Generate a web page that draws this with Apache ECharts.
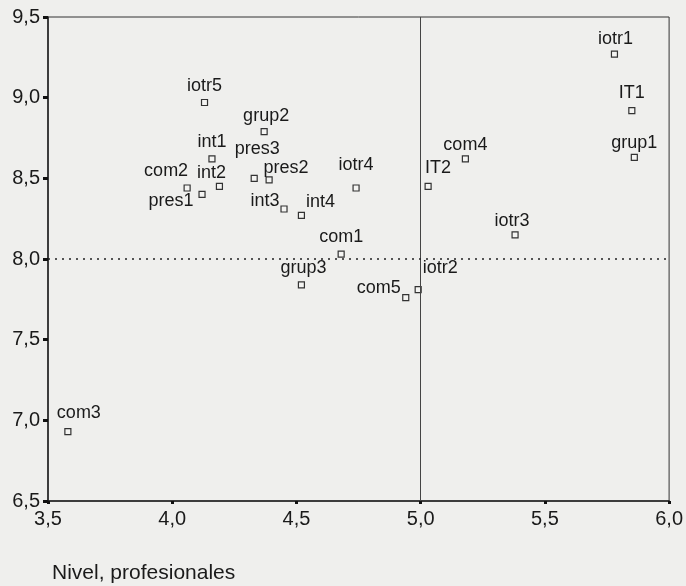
<!DOCTYPE html>
<html lang="es">
<head>
    <meta http-equiv="Content-Type" content="text/html; charset=UTF-8">
    <title>Nivel, profesionales</title>
    <script type="text/javascript" src="https://cdn.jsdelivr.net/npm/echarts@6/dist/echarts.min.js"></script>
</head>
<body style="margin:0; width:686px; height:586px; background:#efefed">
<div id="main" style="width:686px; height:586px"></div>
<script type="text/javascript">
    // datos
    var names = ['iotr1', 'IT1', 'grup1', 'com4', 'IT2', 'iotr3', 'iotr2', 'com5', 'grup3', 'com1',
        'int4', 'int3', 'iotr4', 'pres2', 'pres3', 'grup2', 'iotr5', 'int1', 'com2', 'int2', 'pres1', 'com3'];
    var xValues = [5.78, 5.85, 5.86, 5.18, 5.03, 5.38, 4.99, 4.94, 4.52, 4.68,
        4.52, 4.45, 4.74, 4.39, 4.33, 4.37, 4.13, 4.16, 4.06, 4.19, 4.12, 3.58];
    var yValues = [9.27, 8.92, 8.63, 8.62, 8.45, 8.15, 7.81, 7.76, 7.84, 8.03,
        8.27, 8.31, 8.44, 8.49, 8.50, 8.79, 8.97, 8.62, 8.44, 8.45, 8.40, 6.93];
    var xTicks = [3.5, 4.0, 4.5, 5.0, 5.5, 6.0];
    var yTicks = [6.5, 7.0, 7.5, 8.0, 8.5, 9.0, 9.5];

    // desplazamiento de cada etiqueta respecto a su punto
    var labelOffsets = {
        iotr1: [1, -15], IT1: [0, -18], grup1: [0, -14], com4: [0, -14], IT2: [10, -18],
        iotr3: [-3, -14], iotr2: [22, -22], com5: [-27, -10], grup3: [2, -17], com1: [0, -17],
        int4: [19, -13], int3: [-19, -8], iotr4: [0, -23], pres2: [17, -12], pres3: [3, -29],
        grup2: [2, -16], iotr5: [0, -16], int1: [0, -17], com2: [-21, -17], int2: [-8, -13],
        pres1: [-31, 7], com3: [11, -19]
    };

    var points = names.map(function (n, i) {
        var off = labelOffsets[n] || [0, -16];
        return {
            name: n,
            value: [xValues[i], yValues[i]],
            label: { offset: off }
        };
    });

    function fmt(v) {
        return v.toFixed(1).replace('.', ',');
    }

    var myChart = echarts.init(document.getElementById('main'));
    myChart.setOption({
        animation: false,
        backgroundColor: '#efefed',
        textStyle: { fontFamily: 'Liberation Sans' },
        title: {
            text: 'Nivel, profesionales',
            left: 47,
            top: 558,
            textStyle: { fontSize: 21, fontWeight: 'normal', color: '#1a1a1a', fontFamily: 'Liberation Sans' }
        },
        grid: {
            left: 48, right: 15, top: 17, bottom: 85,
            show: true,
            borderColor: '#333',
            borderWidth: 1,
            backgroundColor: 'transparent'
        },
        xAxis: {
            type: 'value',
            min: xTicks[0],
            max: xTicks[xTicks.length - 1],
            interval: 0.5,
            axisLine: { lineStyle: { color: '#222', width: 1.5 } },
            axisTick: { show: true, length: 3, lineStyle: { color: '#111', width: 3 } },
            axisLabel: { fontSize: 20, color: '#1a1a1a', margin: 8, formatter: fmt },
            splitLine: { show: false }
        },
        yAxis: {
            type: 'value',
            min: yTicks[0],
            max: yTicks[yTicks.length - 1],
            interval: 0.5,
            axisLine: { show: true, lineStyle: { color: '#222', width: 1.5 } },
            axisTick: { show: true, length: 5, lineStyle: { color: '#111', width: 3 } },
            axisLabel: { fontSize: 20, color: '#1a1a1a', margin: 8, formatter: fmt },
            splitLine: { show: false }
        },
        series: [{
            type: 'scatter',
            symbol: 'rect',
            symbolSize: 6,
            itemStyle: { color: '#f4f4f2', borderColor: '#333', borderWidth: 1.2, opacity: 1 },
            label: {
                show: true,
                position: 'inside',
                formatter: '{b}',
                fontSize: 18,
                color: '#1a1a1a',
                fontFamily: 'Liberation Sans'
            },
            data: points,
            markLine: {
                silent: true,
                symbol: 'none',
                label: { show: false },
                data: [
                    { xAxis: 5.0, lineStyle: { type: 'solid', color: '#444', width: 1 } },
                    { yAxis: 8.0, lineStyle: { type: [2, 5], color: '#222', width: 1.5 } }
                ]
            }
        }]
    });
</script>
</body>
</html>
